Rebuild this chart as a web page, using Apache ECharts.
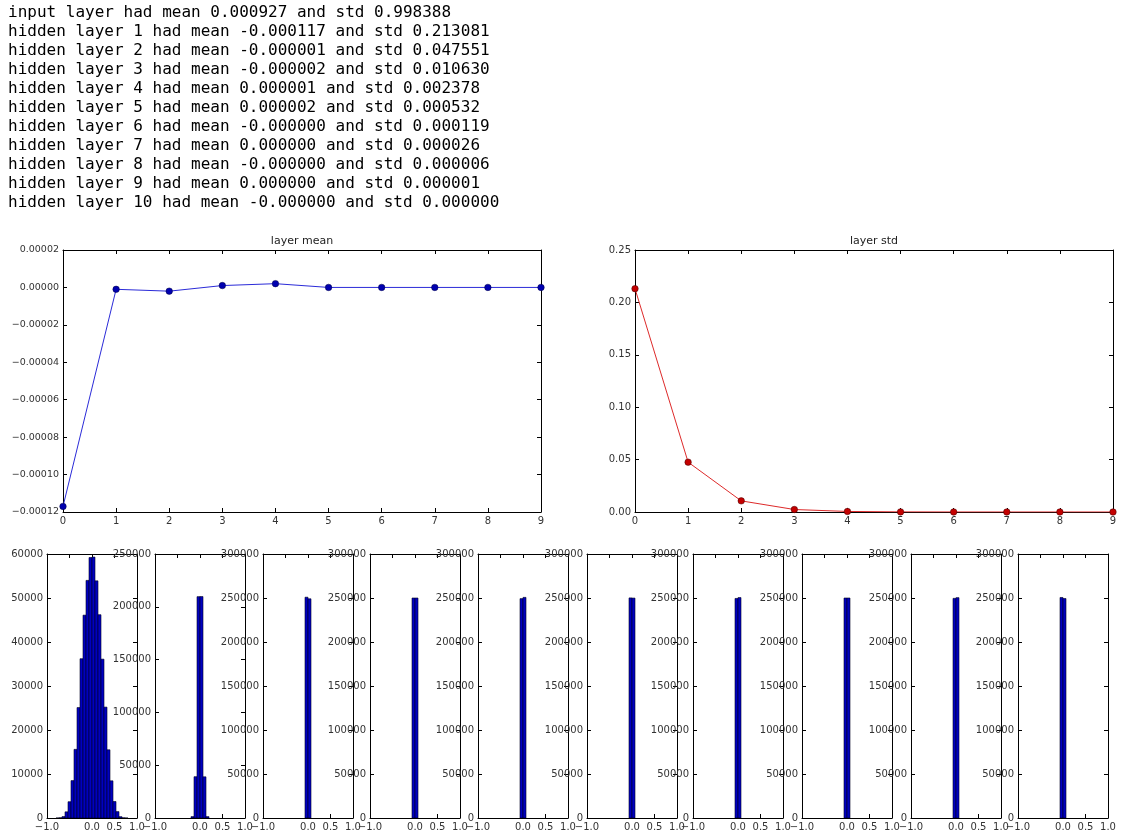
<!DOCTYPE html>
<html>
<head>
<meta charset="utf-8">
<script src="https://cdn.jsdelivr.net/npm/echarts@6/dist/echarts.min.js"></script>
<style>
html,body{margin:0;padding:0;background:#fff;}
#chart{width:1125px;height:839px;}
</style>
</head>
<body>
<div id="chart"></div>
<script>
// ---------- data ----------
const logLines = [
  'input layer had mean 0.000927 and std 0.998388',
  'hidden layer 1 had mean -0.000117 and std 0.213081',
  'hidden layer 2 had mean -0.000001 and std 0.047551',
  'hidden layer 3 had mean -0.000002 and std 0.010630',
  'hidden layer 4 had mean 0.000001 and std 0.002378',
  'hidden layer 5 had mean 0.000002 and std 0.000532',
  'hidden layer 6 had mean -0.000000 and std 0.000119',
  'hidden layer 7 had mean 0.000000 and std 0.000026',
  'hidden layer 8 had mean -0.000000 and std 0.000006',
  'hidden layer 9 had mean 0.000000 and std 0.000001',
  'hidden layer 10 had mean -0.000000 and std 0.000000'
];
const layerIndex = [0, 1, 2, 3, 4, 5, 6, 7, 8, 9];
const layerMeans = [-0.000117, -0.000001, -0.000002, 0.000001, 0.000002, 0.0, 0.0, 0.0, 0.0, 0.0];
const layerStds  = [0.213081, 0.047551, 0.010630, 0.002378, 0.000532, 0.000119, 0.000026, 0.000006, 0.000001, 0.000000];

const meanTicks = { min: -0.00012, max: 0.00002, interval: 0.00002 };
const stdTicks  = { min: 0, max: 0.25, interval: 0.05 };

// histogram: 30 bins over [-1, 1]
const histRange = [-1, 1];
const histBins = 30;
const histLayer1  = [0,0,0,5,50,320,1400,3700,8500,15600,25100,36200,46100,54000,59200,59300,53900,46200,36100,25200,15500,8450,3750,1450,300,40,4,0,0,0];
const histLayer2  = [0,0,0,0,0,0,0,0,0,0,0,0,1300,39100,209600,209700,39000,1300,0,0,0,0,0,0,0,0,0,0,0,0];
const histLayer3  = [0,0,0,0,0,0,0,0,0,0,0,0,0,0,250900,249100,0,0,0,0,0,0,0,0,0,0,0,0,0,0];
const histLayer4  = [0,0,0,0,0,0,0,0,0,0,0,0,0,0,250000,250000,0,0,0,0,0,0,0,0,0,0,0,0,0,0];
const histLayer5  = [0,0,0,0,0,0,0,0,0,0,0,0,0,0,249300,250700,0,0,0,0,0,0,0,0,0,0,0,0,0,0];
const histLayer6  = [0,0,0,0,0,0,0,0,0,0,0,0,0,0,250100,249900,0,0,0,0,0,0,0,0,0,0,0,0,0,0];
const histLayer7  = [0,0,0,0,0,0,0,0,0,0,0,0,0,0,249500,250500,0,0,0,0,0,0,0,0,0,0,0,0,0,0];
const histLayer8  = [0,0,0,0,0,0,0,0,0,0,0,0,0,0,250000,250000,0,0,0,0,0,0,0,0,0,0,0,0,0,0];
const histLayer9  = [0,0,0,0,0,0,0,0,0,0,0,0,0,0,249600,250400,0,0,0,0,0,0,0,0,0,0,0,0,0,0];
const histLayer10 = [0,0,0,0,0,0,0,0,0,0,0,0,0,0,250600,249400,0,0,0,0,0,0,0,0,0,0,0,0,0,0];
const histYMax      = [60000, 250000, 300000, 300000, 300000, 300000, 300000, 300000, 300000, 300000];
const histYInterval = [10000, 50000, 50000, 50000, 50000, 50000, 50000, 50000, 50000, 50000];

// ---------- layout ----------
const topGridMean = { left: 63, top: 250, width: 478, height: 262 };
const topGridStd  = { left: 635, top: 250, width: 478, height: 262 };
const histLefts = [47, 155, 263, 370, 478, 587, 693, 802, 911, 1018];
const histTop = 554, histW = 90, histH = 264;

const FONT = 'DejaVu Sans';
const LABEL_COLOR = '#333';
const minus = s => s.replace('-', '\u2212');

const tickStyle = { show: true, inside: true, length: 4, lineStyle: { color: '#000', width: 1 } };
const lineStyle = { show: true, onZero: false, lineStyle: { color: '#000', width: 1 } };

const grids = [], xAxes = [], yAxes = [], series = [];

function addPanel(grid, xCfg, yCfg) {
  const gi = grids.length;
  grids.push(Object.assign({ containLabel: false }, grid));
  const xBase = { type: 'value', gridIndex: gi, min: xCfg.min, max: xCfg.max, interval: xCfg.interval,
                  splitLine: { show: false }, axisLine: lineStyle, axisTick: tickStyle };
  const yBase = { type: 'value', gridIndex: gi, min: yCfg.min, max: yCfg.max, interval: yCfg.interval,
                  splitLine: { show: false }, axisLine: lineStyle, axisTick: tickStyle };
  xAxes.push(Object.assign({}, xBase, { position: 'bottom',
    axisLabel: { show: true, fontFamily: FONT, fontSize: 10, color: LABEL_COLOR, margin: 4,
                 showMinLabel: true, showMaxLabel: true, formatter: xCfg.fmt } }));
  xAxes.push(Object.assign({}, xBase, { position: 'top', axisLabel: { show: false } }));
  yAxes.push(Object.assign({}, yBase, { position: 'left',
    axisLabel: { show: true, fontFamily: FONT, fontSize: yCfg.fs || 10, color: LABEL_COLOR, margin: 4,
                 showMinLabel: true, showMaxLabel: true, formatter: yCfg.fmt } }));
  yAxes.push(Object.assign({}, yBase, { position: 'right', axisLabel: { show: false } }));
  return { x: xAxes.length - 2, y: yAxes.length - 2 };
}

const fixedFmt = d => v => { if (Math.abs(v) < 1e-12) v = 0; return minus(v.toFixed(d)); };

// layer mean
const meanAx = addPanel(topGridMean,
  { min: 0, max: 9, interval: 1, fmt: v => String(Math.round(v)) },
  { min: meanTicks.min, max: meanTicks.max, interval: meanTicks.interval, fmt: fixedFmt(5), fs: 9.5 });
series.push({
  type: 'line', xAxisIndex: meanAx.x, yAxisIndex: meanAx.y,
  data: layerIndex.map((x, i) => [x, layerMeans[i]]),
  symbol: 'circle', symbolSize: 6.5, showAllSymbol: true, clip: true,
  lineStyle: { color: '#2b2bd8', width: 1 },
  itemStyle: { color: '#0000b0', borderColor: '#000040', borderWidth: 0.5 },
  animation: false
});

// layer std
const stdAx = addPanel(topGridStd,
  { min: 0, max: 9, interval: 1, fmt: v => String(Math.round(v)) },
  { min: stdTicks.min, max: stdTicks.max, interval: stdTicks.interval, fmt: fixedFmt(2) });
series.push({
  type: 'line', xAxisIndex: stdAx.x, yAxisIndex: stdAx.y,
  data: layerIndex.map((x, i) => [x, layerStds[i]]),
  symbol: 'circle', symbolSize: 6.5, showAllSymbol: true, clip: true,
  lineStyle: { color: '#dd2a2a', width: 1 },
  itemStyle: { color: '#c40000', borderColor: '#400000', borderWidth: 0.5 },
  animation: false
});

// histograms
const histAll = [histLayer1, histLayer2, histLayer3, histLayer4, histLayer5,
                 histLayer6, histLayer7, histLayer8, histLayer9, histLayer10];
const binW = (histRange[1] - histRange[0]) / histBins;
histAll.forEach((counts, li) => {
  const ax = addPanel({ left: histLefts[li], top: histTop, width: histW, height: histH },
    { min: -1, max: 1, interval: 0.5, fmt: fixedFmt(1) },
    { min: 0, max: histYMax[li], interval: histYInterval[li], fmt: v => String(Math.round(v)) });
  const data = [];
  counts.forEach((c, k) => {
    if (c > 0) data.push([histRange[0] + k * binW, histRange[0] + (k + 1) * binW, c]);
  });
  series.push({
    type: 'custom', xAxisIndex: ax.x, yAxisIndex: ax.y, clip: true,
    encode: { x: [0, 1], y: 2 },
    data: data,
    renderItem: (params, api) => {
      const p0 = api.coord([api.value(0), api.value(2)]);
      const p1 = api.coord([api.value(1), 0]);
      return {
        type: 'rect',
        shape: { x: p0[0], y: p0[1], width: p1[0] - p0[0], height: p1[1] - p0[1] },
        style: { fill: '#0000c0', stroke: '#000022', lineWidth: 0.6 }
      };
    },
    animation: false
  });
});

const option = {
  backgroundColor: '#ffffff',
  animation: false,
  title: [
    { text: logLines.join('\n'), left: 8, top: 3, padding: 0,
      textStyle: { fontFamily: 'DejaVu Sans Mono', fontSize: 16, lineHeight: 19, color: '#000', fontWeight: 'normal' } },
    { text: 'layer mean', left: topGridMean.left + topGridMean.width / 2, top: 236, textAlign: 'center', padding: 0,
      textStyle: { fontFamily: FONT, fontSize: 11, color: '#222', fontWeight: 'normal' } },
    { text: 'layer std', left: topGridStd.left + topGridStd.width / 2, top: 236, textAlign: 'center', padding: 0,
      textStyle: { fontFamily: FONT, fontSize: 11, color: '#222', fontWeight: 'normal' } }
  ],
  grid: grids,
  xAxis: xAxes,
  yAxis: yAxes,
  series: series
};

const chart = echarts.init(document.getElementById('chart'), null, { renderer: 'canvas' });
chart.setOption(option);
</script>
</body>
</html>
